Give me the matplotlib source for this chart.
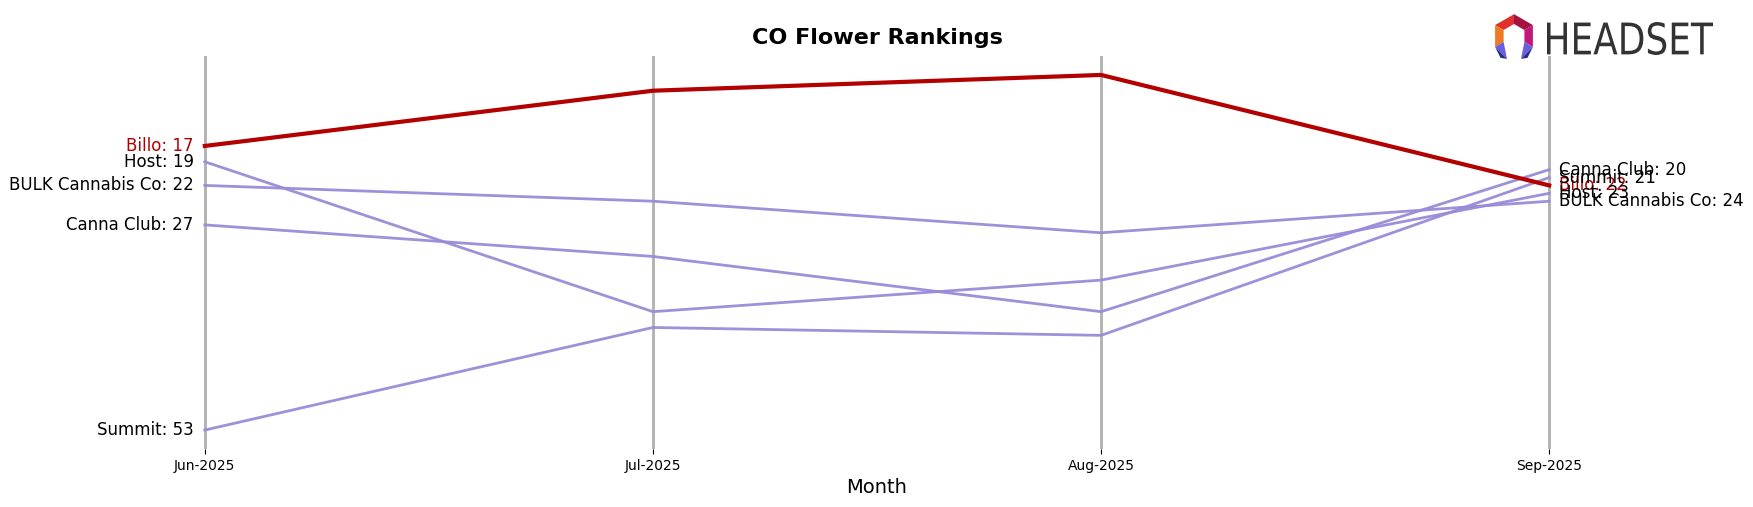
import numpy as np
import matplotlib.pyplot as plt
from matplotlib.patches import Polygon, PathPatch
from matplotlib.textpath import TextPath
from matplotlib.font_manager import FontProperties
from matplotlib.transforms import Affine2D

# data
months = ['Jun-2025', 'Jul-2025', 'Aug-2025', 'Sep-2025']
brands = ['Billo', 'Host', 'BULK Cannabis Co', 'Canna Club', 'Summit']
billo = [17, 10, 8, 22]
host = [19, 38, 34, 23]
bulk = [22, 24, 28, 24]
canna_club = [27, 31, 38, 20]
summit = [53, 40, 41, 21]
ranks = [billo, host, bulk, canna_club, summit]

highlight = 'Billo'
red = '#b30000'
purple = '#9a8ad8'

fig = plt.figure(figsize=(17.53, 5.07), dpi=100)
W, H = 1753, 507
ax = fig.add_axes([160 / W, 1 - 449 / H, (1594 - 160) / W, (449 - 56) / H])

x = np.arange(len(months))
for xi in x:
    ax.axvline(xi, color='#b0b0b0', lw=2, zorder=1)

for name, r in zip(brands, ranks):
    if name == highlight:
        ax.plot(x, r, color=red, lw=3, zorder=4)
    else:
        ax.plot(x, r, color=purple, lw=2, alpha=0.95, zorder=3)

# end labels
for name, r in zip(brands, ranks):
    c = red if name == highlight else 'black'
    ax.annotate(f'{name}: {r[0]}', (x[0], r[0]), xytext=(-8, 0), textcoords='offset points',
                ha='right', va='center', fontsize=12, color=c, zorder=5)
    ax.annotate(f'{name}: {r[-1]}', (x[-1], r[-1]), xytext=(7, 0), textcoords='offset points',
                ha='left', va='center', fontsize=12, color=c, zorder=5)

ax.set_xlim(-0.1, 3.1)
ax.set_ylim(55.4, 5.6)
ax.set_xticks(x)
ax.set_xticklabels(months, fontsize=10)
ax.set_yticks([])
for s in ax.spines.values():
    s.set_visible(False)
ax.set_xlabel('Month', fontsize=14)
ax.set_title('CO Flower Rankings', fontsize=16, fontweight='bold', pad=8.5)

# logo
lax = fig.add_axes([1490 / W, 1 - 60 / H, 48 / W, 48 / H])
lax.set_xlim(-1.1, 1.1)
lax.set_ylim(-1.1, 1.1)
lax.set_aspect('equal')
lax.axis('off')

def pt(rad, ang):
    a = np.deg2rad(ang)
    return (rad * np.cos(a), rad * np.sin(a))

ro, ri = 1.0, 0.55
segs = [(150, 90, '#e0302f'), (90, 30, '#a5123f'), (30, -30, '#c2187a'),
        (210, 150, '#f07a22')]
for a0, a1, c in segs:
    lax.add_patch(Polygon([pt(ro, a0), pt(ro, a1), pt(ri, a1), pt(ri, a0)], color=c, lw=0))
lax.add_patch(Polygon([pt(ro, -30), pt(ri, -30), (0.32, -1.05)], color='#6a5fe0', lw=0))
lax.add_patch(Polygon([pt(ro, -30), (0.32, -1.05), (0.62, -1.0)], color='#263083', lw=0))
lax.add_patch(Polygon([pt(ro, 210), pt(ri, 210), (-0.32, -1.05)], color='#6a5fe0', lw=0))
lax.add_patch(Polygon([pt(ro, 210), (-0.32, -1.05), (-0.62, -1.0)], color='#263083', lw=0))

# wordmark squeezed into its box
tax = fig.add_axes([0, 0, 1, 1], facecolor='none')
tax.set_xlim(0, W)
tax.set_ylim(H, 0)
tax.axis('off')
tp = TextPath((0, 0), 'HEADSET', size=10, prop=FontProperties(family='DejaVu Sans'))
bb = tp.get_extents()
x0, x1, y0, y1 = 1547, 1713, 22, 55
tr = (Affine2D().translate(-bb.x0, -bb.y0)
      .scale((x1 - x0) / bb.width, -(y1 - y0) / bb.height)
      .translate(x0, y1))
tax.add_patch(PathPatch(tr.transform_path(tp), color='#333333', lw=0))

fig.savefig('out.png', dpi=100)
